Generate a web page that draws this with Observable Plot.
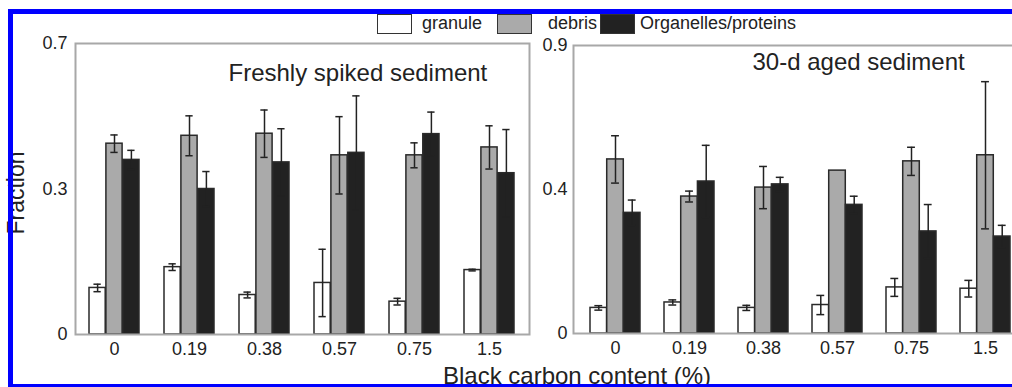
<!DOCTYPE html>
<html><head><meta charset="utf-8">
<script src="https://cdn.jsdelivr.net/npm/d3@7"></script>
<script src="https://cdn.jsdelivr.net/npm/@observablehq/plot@0.6"></script>
<style>
html,body{margin:0;padding:0;background:#fff;overflow:hidden;}
#wrap{position:relative;width:1012px;height:387px;overflow:hidden;background:#fff;font-family:"Liberation Sans",Arial,sans-serif;color:#222;}
.abs{position:absolute;white-space:nowrap;}
.box{position:absolute;box-sizing:border-box;border:1.5px solid #333;width:35px;height:20px;}
.leg{position:absolute;white-space:nowrap;font-size:18px;line-height:18px;}
#border{position:absolute;left:8px;top:9px;width:1100px;height:370px;border:5px solid #0000ff;z-index:10;pointer-events:none;}
</style></head>
<body><div id="wrap"></div>
<script>
// ---- data ----
const categories = ["0", "0.19", "0.38", "0.57", "0.75", "1.5"];
const seriesNames = ["granule", "debris", "Organelles/proteins"];
const seriesColors = ["#ffffff", "#aaaaaa", "#222222"];

// Freshly spiked sediment
const freshGranule = [0.112, 0.162, 0.095, 0.124, 0.079, 0.155];
const freshGranuleErr = [0.009, 0.008, 0.007, 0.081, 0.008, 0.002];
const freshDebris = [0.459, 0.478, 0.483, 0.431, 0.431, 0.450];
const freshDebrisErr = [0.021, 0.048, 0.057, 0.093, 0.030, 0.052];
const freshOrganelles = [0.420, 0.350, 0.414, 0.437, 0.482, 0.388];
const freshOrganellesErr = [0.023, 0.042, 0.081, 0.137, 0.053, 0.105];

// 30-d aged sediment
const agedGranule = [0.080, 0.097, 0.080, 0.089, 0.144, 0.140];
const agedGranuleErr = [0.007, 0.008, 0.008, 0.030, 0.028, 0.026];
const agedDebris = [0.544, 0.428, 0.456, 0.509, 0.538, 0.557];
const agedDebrisErr = [0.074, 0.017, 0.066, 0, 0.044, 0.230];
const agedOrganelles = [0.377, 0.475, 0.466, 0.402, 0.319, 0.303];
const agedOrganellesErr = [0.040, 0.113, 0.022, 0.027, 0.084, 0.035];

const leftYTicks = [0, 0.35, 0.7];
const leftYTickLabels = ["0", "0.3", "0.7"];
const rightYTicks = [0, 0.45, 0.9];
const rightYTickLabels = ["0", "0.4", "0.9"];

const panelTitles = ["Freshly spiked sediment", "30-d aged sediment"];
const yLabel = "Fraction";
const xLabel = "Black carbon content (%)";

// ---- build tables ----
function table(vals, errs) {
  const out = [];
  vals.forEach((v, s) => v.forEach((value, i) =>
    out.push({bc: categories[i], series: seriesNames[s], value, err: errs[s][i]})));
  return out;
}
const freshData = table([freshGranule, freshDebris, freshOrganelles],
                        [freshGranuleErr, freshDebrisErr, freshOrganellesErr]);
const agedData = table([agedGranule, agedDebris, agedOrganelles],
                       [agedGranuleErr, agedDebrisErr, agedOrganellesErr]);

const FONT = '"Liberation Sans", Arial, sans-serif';

function panel(o) {
  const height = 387, mT = o.mT, mB = height - o.bottom;
  const pI = 0.33, pO = 0.165;
  const step = (o.width - o.mL - o.mR) / (categories.length - pI + 2 * pO);
  const bw = step * (1 - pI);
  const sub = bw / 3;
  const marks = [];
  seriesNames.forEach((s, i) => {
    marks.push(Plot.barY(o.data.filter(r => r.series === s), {
      x: "bc", y: "value", fill: seriesColors[i], stroke: "#2a2a2a", strokeWidth: 1.5,
      insetLeft: i * sub, insetRight: (2 - i) * sub
    }));
  });
  seriesNames.forEach((s, i) => {
    const d = o.data.filter(r => r.series === s && r.err > 0);
    const off = (i - 1) * sub;
    marks.push(Plot.ruleX(d, {x: "bc", y1: r => r.value - r.err, y2: r => r.value + r.err,
      dx: off, stroke: "#222", strokeWidth: 1.5}));
    const iL = bw / 2 + off - 4, iR = bw / 2 - off - 4;
    marks.push(Plot.tickY(d, {x: "bc", y: r => r.value + r.err, insetLeft: iL, insetRight: iR,
      stroke: "#222", strokeWidth: 1.5}));
    marks.push(Plot.tickY(d, {x: "bc", y: r => r.value - r.err, insetLeft: iL, insetRight: iR,
      stroke: "#222", strokeWidth: 1.5}));
  });
  marks.push(Plot.frame({stroke: "#a8a8a8", strokeWidth: 2, insetLeft: o.fL || 0}));
  marks.push(Plot.text([o.title], {text: d => d, frameAnchor: "top-left", textAnchor: "start",
    lineAnchor: "top", dx: o.tdx, dy: o.tdy, fontSize: 24, fill: "#222"}));
  return Plot.plot({
    width: o.width, height,
    marginLeft: o.mL, marginRight: o.mR, marginTop: mT, marginBottom: mB,
    style: {fontSize: "18px", fontFamily: FONT, color: "#222", background: "transparent",
            overflow: "visible", maxWidth: "none"},
    x: {domain: categories, paddingInner: pI, paddingOuter: pO, tickSize: 0, tickPadding: 8, label: null},
    y: {domain: [0, o.yMax], ticks: o.ticks, tickFormat: d => o.labels[o.ticks.indexOf(d)],
        tickSize: 0, tickPadding: o.tp, label: null},
    marks
  });
}

const wrap = document.getElementById("wrap");

const left = panel({data: freshData, yMax: 0.7, ticks: leftYTicks, labels: leftYTickLabels,
  title: panelTitles[0], width: 545, mL: 75, mR: 16, mT: 43, bottom: 334, tdx: 153, tdy: 20, tp: 8});
left.style.position = "absolute"; left.style.left = "0px"; left.style.top = "0px";
wrap.appendChild(left);

const right = panel({data: agedData, yMax: 0.9, ticks: rightYTicks, labels: rightYTickLabels,
  title: panelTitles[1], width: 530, mL: 45, mR: 36, mT: 45, bottom: 333, tdx: 177, tdy: 7, tp: 8, fL: -2});
right.style.position = "absolute"; right.style.left = "530px"; right.style.top = "0px";
wrap.appendChild(right);

// legend
const legX = [{box: 377, text: 422}, {box: 497, text: 548}, {box: 600, text: 640}];
seriesNames.forEach((s, i) => {
  const b = document.createElement("div");
  b.className = "box"; b.style.left = legX[i].box + "px"; b.style.top = "14px";
  b.style.background = seriesColors[i];
  wrap.appendChild(b);
  const t = document.createElement("div");
  t.className = "leg"; t.textContent = s;
  t.style.left = legX[i].text + "px"; t.style.top = "14px";
  wrap.appendChild(t);
});

// axis titles
const yl = document.createElement("div");
yl.className = "abs"; yl.textContent = yLabel;
Object.assign(yl.style, {left: "-44px", top: "181px", width: "120px", height: "24px", lineHeight: "24px",
  fontSize: "23px", textAlign: "center", transform: "rotate(-90deg)", transformOrigin: "50% 50%"});
wrap.appendChild(yl);

const xl = document.createElement("div");
xl.className = "abs"; xl.textContent = xLabel;
Object.assign(xl.style, {left: "377px", top: "364px", width: "400px", lineHeight: "24px",
  fontSize: "24px", textAlign: "center"});
wrap.appendChild(xl);

const border = document.createElement("div");
border.id = "border";
wrap.appendChild(border);
</script>
</body></html>
